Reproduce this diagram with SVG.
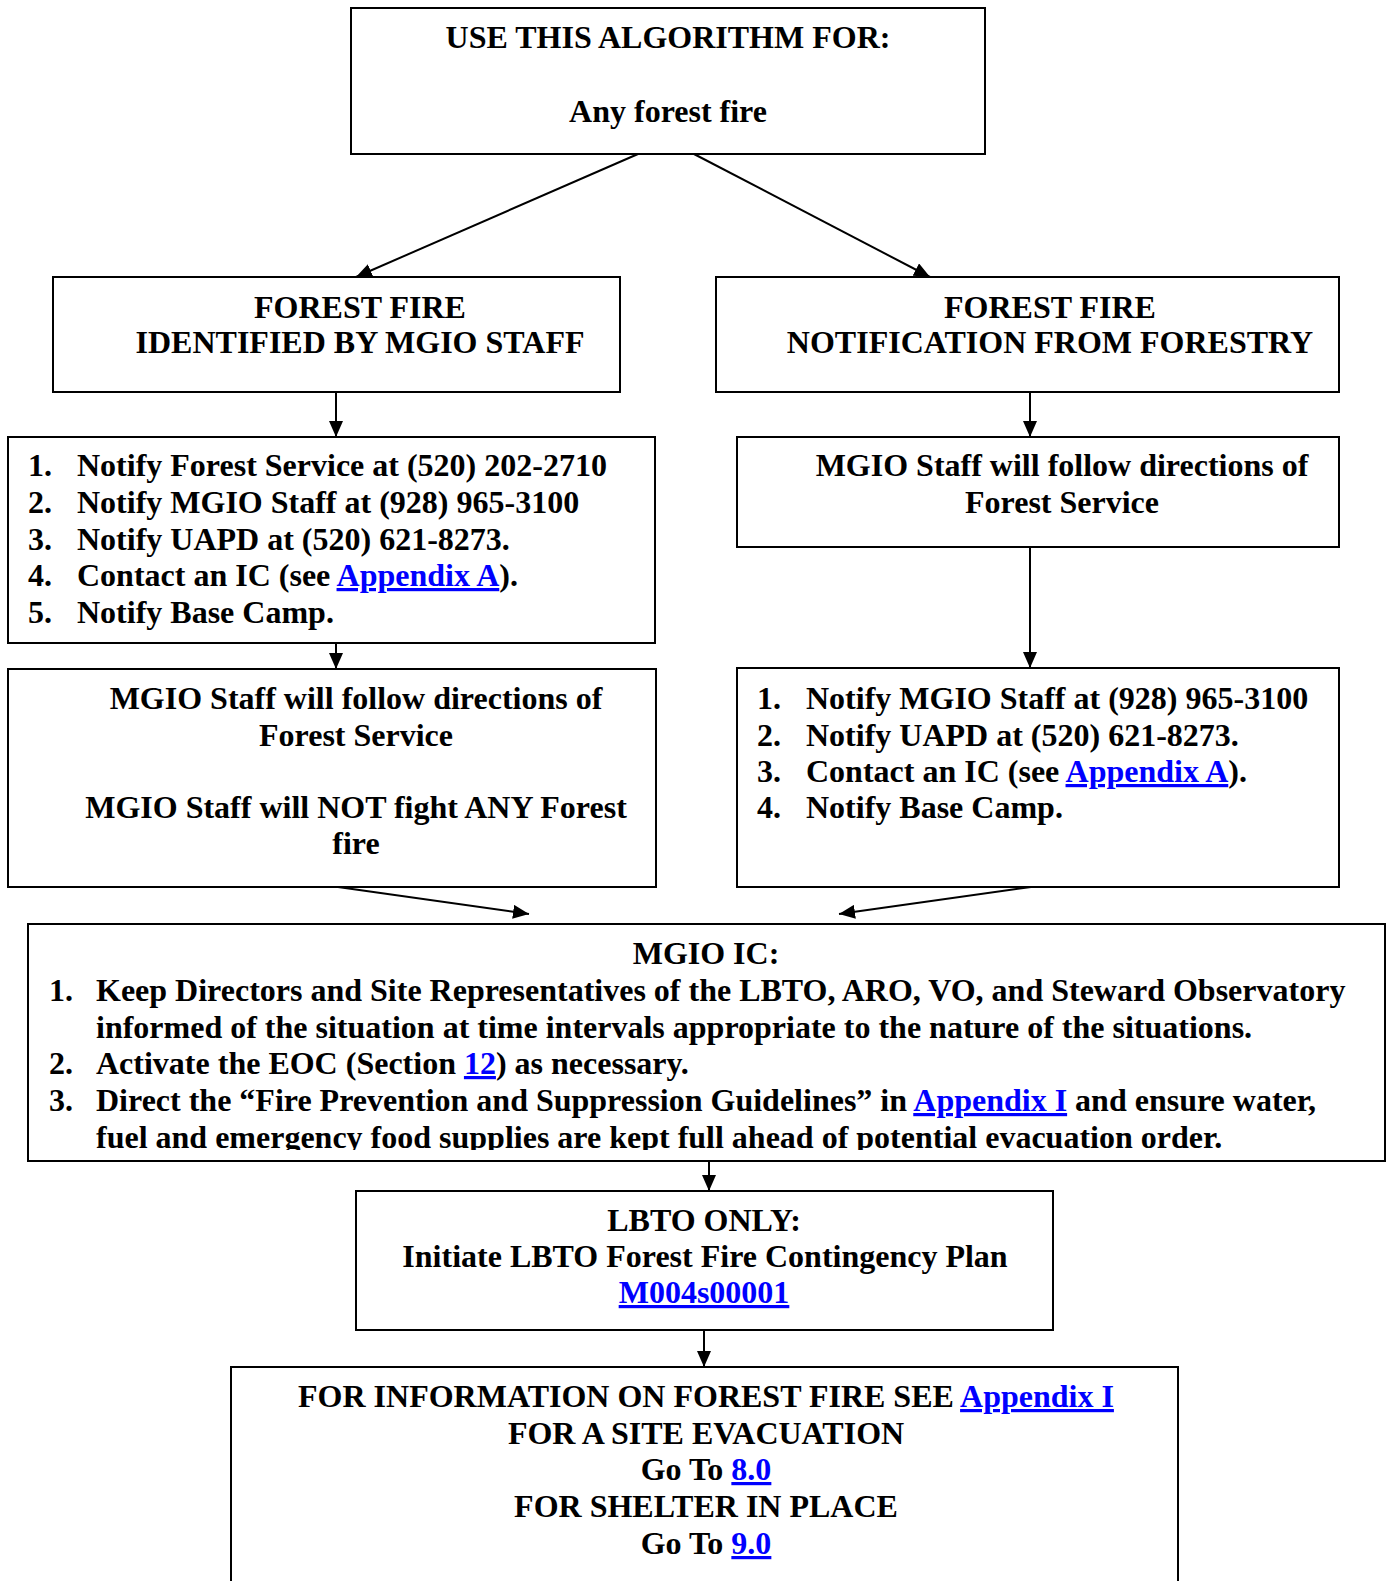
<svg xmlns="http://www.w3.org/2000/svg" width="1391" height="1581" viewBox="0 0 1391 1581">
<style>
.box{fill:#fff;stroke:#000;stroke-width:2}
.t{font-family:"Liberation Serif","Times New Roman",serif;font-weight:bold;font-size:32px;fill:#000}
.c{text-anchor:middle}
.lk{fill:#0000ff;text-decoration:underline;text-decoration-thickness:3px}
.cn{stroke:#000;stroke-width:2;fill:none;marker-end:url(#ah)}
</style>
<defs>
<marker id="ah" markerUnits="userSpaceOnUse" markerWidth="17" markerHeight="14" refX="16" refY="7" orient="auto">
<path d="M0,0 L16,7 L0,14 z" fill="#000"/>
</marker>
<clipPath id="icclip"><rect x="28" y="924" width="1357" height="226"/></clipPath>
</defs>
<rect width="1391" height="1581" fill="#fff"/>

<g id="connectors">
<line class="cn" x1="638" y1="154" x2="356" y2="277"/>
<line class="cn" x1="694" y1="154" x2="930" y2="277"/>
<line class="cn" x1="336" y1="392" x2="336" y2="437"/>
<line class="cn" x1="1030" y1="392" x2="1030" y2="437"/>
<line class="cn" x1="336" y1="643" x2="336" y2="669"/>
<line class="cn" x1="1030" y1="547" x2="1030" y2="668"/>
<line class="cn" x1="338" y1="887" x2="529" y2="914"/>
<line class="cn" x1="1031" y1="887" x2="839" y2="914"/>
<line class="cn" x1="709" y1="1150" x2="709" y2="1191"/>
<line class="cn" x1="704" y1="1330" x2="704" y2="1367"/>
</g>

<g id="start">
<rect class="box" x="351" y="8" width="634" height="146"/>
<text class="t c" x="668" y="48">USE THIS ALGORITHM FOR:</text>
<text class="t c" x="668" y="122">Any forest fire</text>
</g>

<g id="identified">
<rect class="box" x="53" y="277" width="567" height="115"/>
<text class="t c" x="360" y="318">FOREST FIRE</text>
<text class="t c" x="360" y="353">IDENTIFIED BY MGIO STAFF</text>
</g>

<g id="notification">
<rect class="box" x="716" y="277" width="623" height="115"/>
<text class="t c" x="1050" y="318">FOREST FIRE</text>
<text class="t c" x="1050" y="353">NOTIFICATION FROM FORESTRY</text>
</g>

<g id="left-list">
<rect class="box" x="8" y="437" width="647" height="206"/>
<text class="t" x="28" y="476">1.</text><text class="t" x="77" y="476">Notify Forest Service at (520) 202-2710</text>
<text class="t" x="28" y="513">2.</text><text class="t" x="77" y="513">Notify MGIO Staff at (928) 965-3100</text>
<text class="t" x="28" y="550">3.</text><text class="t" x="77" y="550">Notify UAPD at (520) 621-8273.</text>
<text class="t" x="28" y="586">4.</text><text class="t" x="77" y="586">Contact an IC (see <tspan class="lk">Appendix A</tspan>).</text>
<text class="t" x="28" y="623">5.</text><text class="t" x="77" y="623">Notify Base Camp.</text>
</g>

<g id="right-follow">
<rect class="box" x="737" y="437" width="602" height="110"/>
<text class="t c" x="1062" y="476">MGIO Staff will follow directions of</text>
<text class="t c" x="1062" y="513">Forest Service</text>
</g>

<g id="left-follow">
<rect class="box" x="8" y="669" width="648" height="218"/>
<text class="t c" x="356" y="709">MGIO Staff will follow directions of</text>
<text class="t c" x="356" y="746">Forest Service</text>
<text class="t c" x="356" y="818">MGIO Staff will NOT fight ANY Forest</text>
<text class="t c" x="356" y="854">fire</text>
</g>

<g id="right-list">
<rect class="box" x="737" y="668" width="602" height="219"/>
<text class="t" x="757" y="709">1.</text><text class="t" x="806" y="709">Notify MGIO Staff at (928) 965-3100</text>
<text class="t" x="757" y="746">2.</text><text class="t" x="806" y="746">Notify UAPD at (520) 621-8273.</text>
<text class="t" x="757" y="782">3.</text><text class="t" x="806" y="782">Contact an IC (see <tspan class="lk">Appendix A</tspan>).</text>
<text class="t" x="757" y="818">4.</text><text class="t" x="806" y="818">Notify Base Camp.</text>
</g>

<g id="mgio-ic">
<rect class="box" x="28" y="924" width="1357" height="237"/>
<g clip-path="url(#icclip)">
<text class="t c" x="706" y="964">MGIO IC:</text>
<text class="t" x="49" y="1001">1.</text><text class="t" x="96" y="1001">Keep Directors and Site Representatives of the LBTO, ARO, VO, and Steward Observatory</text>
<text class="t" x="96" y="1038">informed of the situation at time intervals appropriate to the nature of the situations.</text>
<text class="t" x="49" y="1074">2.</text><text class="t" x="96" y="1074">Activate the EOC (Section <tspan class="lk">12</tspan>) as necessary.</text>
<text class="t" x="49" y="1111">3.</text><text class="t" x="96" y="1111">Direct the “Fire Prevention and Suppression Guidelines” in <tspan class="lk">Appendix I</tspan> and ensure water,</text>
<text class="t" x="96" y="1148">fuel and emergency food supplies are kept full ahead of potential evacuation order.</text>
</g>
</g>

<g id="lbto">
<rect class="box" x="356" y="1191" width="697" height="139"/>
<text class="t c" x="704" y="1231">LBTO ONLY:</text>
<text class="t c" x="705" y="1267">Initiate LBTO Forest Fire Contingency Plan</text>
<text class="t c" x="704" y="1303"><tspan class="lk">M004s00001</tspan></text>
</g>

<g id="info">
<rect class="box" x="231" y="1367" width="947" height="260"/>
<text class="t c" x="706" y="1407">FOR INFORMATION ON FOREST FIRE SEE <tspan class="lk">Appendix I</tspan></text>
<text class="t c" x="706" y="1444">FOR A SITE EVACUATION</text>
<text class="t c" x="706" y="1480">Go To <tspan class="lk">8.0</tspan></text>
<text class="t c" x="706" y="1517">FOR SHELTER IN PLACE</text>
<text class="t c" x="706" y="1554">Go To <tspan class="lk">9.0</tspan></text>
</g>
</svg>
